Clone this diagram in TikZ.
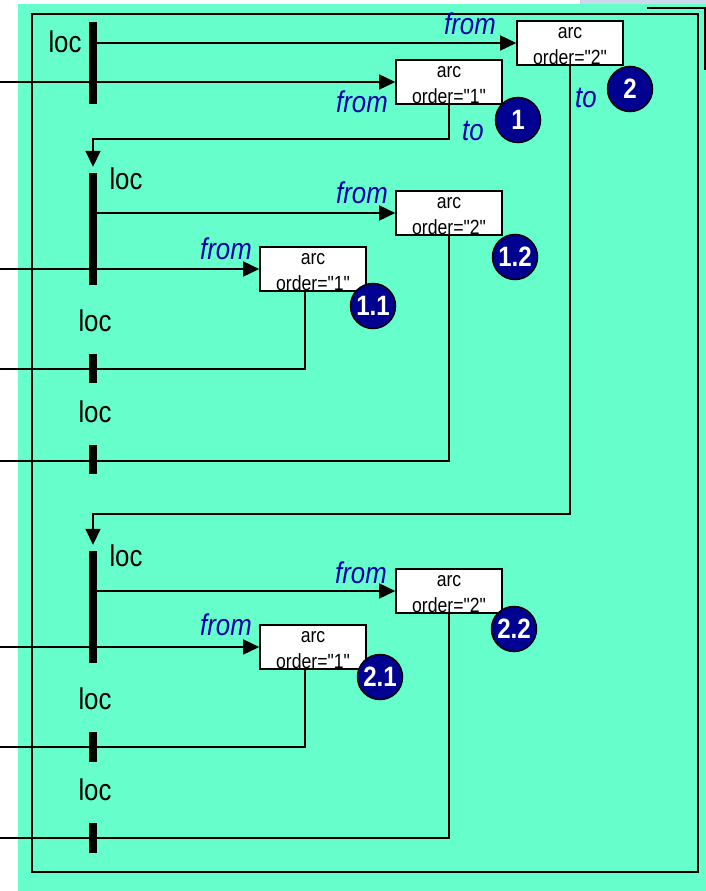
\documentclass[tikz,border=0pt]{standalone}
\usepackage{fontspec}
\setmainfont{Liberation Sans}
\newfontfamily\narrowsf[FakeStretch=0.86]{Liberation Sans}
\usepackage{tikz}
\usetikzlibrary{arrows.meta}
\definecolor{sheet}{RGB}{102,255,204}
\definecolor{rolecol}{RGB}{0,0,170}
\definecolor{badgecol}{RGB}{0,0,145}
\definecolor{stripcol}{RGB}{205,215,238}
\newcommand{\arctext}[1]{\rule{0pt}{18pt}arc\\order="#1"}

\begin{document}
\begin{tikzpicture}[x=1pt,y=-1pt]
\tikzstyle{bar}=[rectangle,fill=black,minimum width=8pt,inner sep=0pt]
\tikzstyle{arcbox}=[rectangle,draw,fill=white,line width=1.6pt,minimum width=106pt,minimum height=44pt,inner sep=0pt,align=center,font=\narrowsf\fontsize{20.5}{26}\selectfont]
\tikzstyle{badge}=[circle,draw,fill=badgecol,line width=1.5pt,minimum size=45pt,inner sep=0pt,text=white,font=\narrowsf\bfseries\fontsize{28}{28}\selectfont]
\tikzstyle{role}=[text=rolecol,inner sep=0pt,font=\narrowsf\itshape\fontsize{30}{30}\selectfont]
\tikzstyle{locname}=[inner sep=0pt,font=\narrowsf\fontsize{30}{30}\selectfont]
\tikzstyle{arrow}=[-{Triangle[length=16pt,width=15pt]},line width=1.6pt]
    \useasboundingbox (0,0) rectangle (706,891);
    \fill[stripcol] (580,0) rectangle (706,4);
    \fill[sheet] (18,4) rectangle (706,891);
    \draw[line width=1.6pt] (32,14) rectangle (698,872);
    \draw[line width=2pt] (647,8) -- (705,8) -- (705,70);
    % locations
    \node[bar,minimum height=82pt] (l1) at (93,63) {};
    \node[bar,minimum height=112pt] (l2) at (93,229) {};
    \node[bar,minimum height=29pt] (l3) at (93,368.5) {};
    \node[bar,minimum height=29pt] (l4) at (93,459.5) {};
    \node[bar,minimum height=112pt] (l5) at (93,607) {};
    \node[bar,minimum height=30pt] (l6) at (93,747) {};
    \node[bar,minimum height=30pt] (l7) at (93,838) {};
    \node[locname] (n1) at (65,42) {loc};
    \node[locname] (n2) at (126,179) {loc};
    \node[locname] (n3) at (95,321) {loc};
    \node[locname] (n4) at (95,412) {loc};
    \node[locname] (n5) at (126,556) {loc};
    \node[locname] (n6) at (95,699) {loc};
    \node[locname] (n7) at (95,790) {loc};
    % free ends on the left
    \coordinate (in1) at (0,82);
    \coordinate (in2) at (0,269);
    \coordinate (in3) at (0,369);
    \coordinate (in4) at (0,461);
    \coordinate (in5) at (0,647);
    \coordinate (in6) at (0,747);
    \coordinate (in7) at (0,838);
    % arcs
    \node[arcbox] (a2) at (570,43) {\arctext{2}};
    \node[arcbox] (a1) at (449,82) {\arctext{1}};
    \node[arcbox] (a12) at (449,213) {\arctext{2}};
    \node[arcbox] (a11) at (313,269) {\arctext{1}};
    \node[arcbox] (a22) at (449,591) {\arctext{2}};
    \node[arcbox] (a21) at (313,647) {\arctext{1}};
    % connectors
    \draw[arrow] (l1.east |- a2.west) -- (a2.west);
    \draw[arrow] (in1) -- (a1.west);
    \draw[arrow] (a1.south) |- ([yshift=34pt]l2.north) -- ([yshift=6pt]l2.north);
    \draw[arrow] (a2.south) |- ([yshift=37pt]l5.north) -- ([yshift=6pt]l5.north);
    \draw[arrow] (l2.east |- a12.west) -- (a12.west);
    \draw[arrow] (in2) -- (a11.west);
    \draw[line width=1.6pt] ([xshift=-8pt]a11.south) |- (in3);
    \draw[line width=1.6pt] (a12.south) |- (in4);
    \draw[arrow] (l5.east |- a22.west) -- (a22.west);
    \draw[arrow] (in5) -- (a21.west);
    \draw[line width=1.6pt] ([xshift=-8pt]a21.south) |- (in6);
    \draw[line width=1.6pt] (a22.south) |- (in7);
    % from / to
    \node[role] (f1) at (470,24) {from};
    \node[role] (f2) at (362,102) {from};
    \node[role] (f3) at (362,193) {from};
    \node[role] (f4) at (226,249) {from};
    \node[role] (f5) at (361,573) {from};
    \node[role] (f6) at (226,625) {from};
    \node[role] (t1) at (473,131) {to};
    \node[role] (t2) at (586,98) {to};
    % order numbers
    \node[badge] (b1) at (518,120) {1};
    \node[badge] (b2) at (630,89) {2};
    \node[badge] (b12) at (515,257) {1.2};
    \node[badge] (b11) at (373,306) {1.1};
    \node[badge] (b22) at (514,629) {2.2};
    \node[badge] (b21) at (380,677) {2.1};
\end{tikzpicture}
\end{document}
